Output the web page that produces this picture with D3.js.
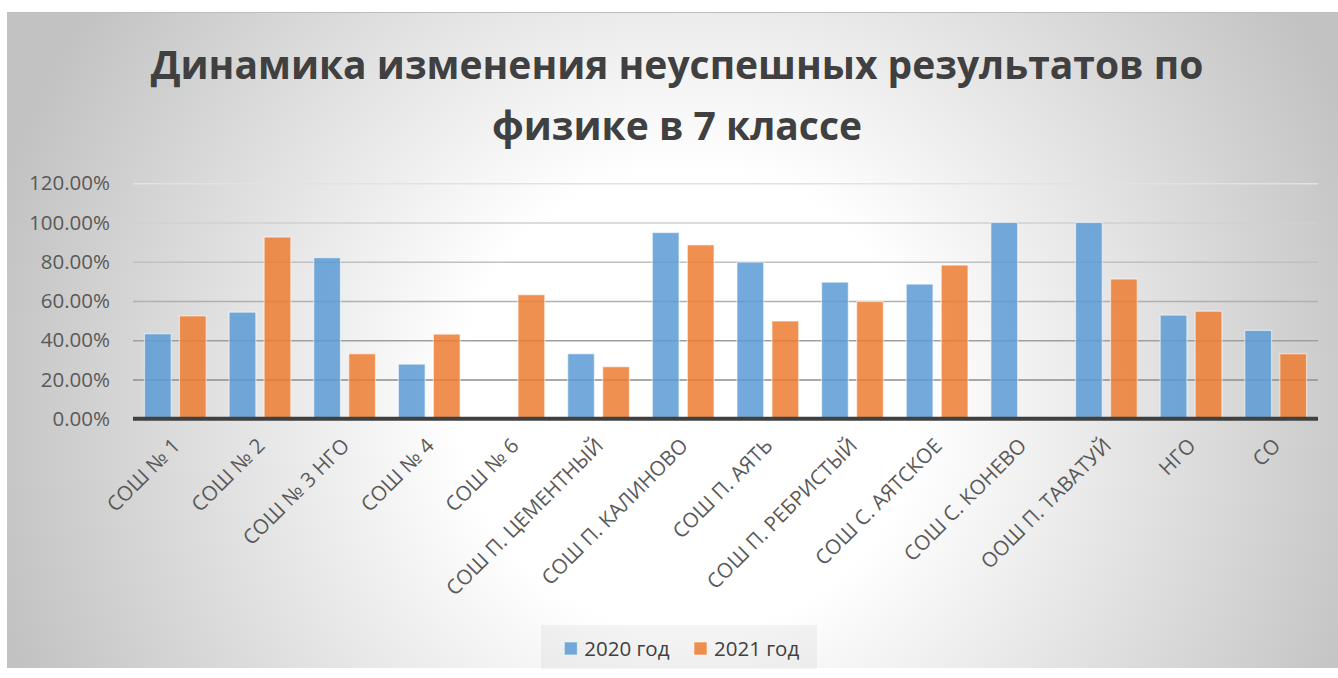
<!DOCTYPE html>
<meta charset="utf-8">
<style>
  body { margin: 0; background: #fff; }
  text { font-family: "Open Sans", sans-serif; }
</style>
<script src="https://d3js.org/d3.v7.min.js"></script>
<div id="chart"></div>
<script>

  // data
  var schools = ["СОШ № 1", "СОШ № 2", "СОШ № 3 НГО", "СОШ № 4", "СОШ № 6", "СОШ П. ЦЕМЕНТНЫЙ",
    "СОШ П. КАЛИНОВО", "СОШ П. АЯТЬ", "СОШ П. РЕБРИСТЫЙ", "СОШ С. АЯТСКОЕ", "СОШ С. КОНЕВО",
    "ООШ П. ТАВАТУЙ", "НГО", "СО"];
  var years = ["2020 год", "2021 год"];
  var values2020 = [43.3, 54.3, 82.1, 27.8, 0, 33.1, 94.9, 79.8, 69.6, 68.6, 100, 100, 52.8, 45.0];
  var values2021 = [52.4, 92.6, 33.1, 43.1, 63.2, 26.5, 88.6, 49.8, 59.7, 78.3, 0, 71.2, 54.8, 33.1];
  var yTicks = [0, 20, 40, 60, 80, 100, 120];
  var titleLines = ["Динамика изменения неуспешных результатов по", "физике в 7 классе"];

  var colors = ["#5b9bd5", "#ed7d31"];
  var series = [values2020, values2021];

  var W = 1338, H = 678;
  var plot = {left: 133, right: 1318, top: 183.3, bottom: 418.7};

  var svg = d3.select("#chart").append("svg")
    .attr("width", W).attr("height", H);

  // background
  var grad = svg.append("defs").append("radialGradient")
    .attr("id", "bg").attr("gradientUnits", "userSpaceOnUse")
    .attr("cx", 690).attr("cy", 400).attr("r", 720);
  grad.append("stop").attr("offset", "0").attr("stop-color", "#ffffff");
  grad.append("stop").attr("offset", "0.32").attr("stop-color", "#ffffff");
  grad.append("stop").attr("offset", "1").attr("stop-color", "#c2c2c2");

  svg.append("rect").attr("x", 7).attr("y", 12).attr("width", W - 7).attr("height", 656)
    .attr("fill", "url(#bg)");
  svg.append("line").attr("x1", 7).attr("x2", W).attr("y1", 12.5).attr("y2", 12.5)
    .attr("stroke", "#bdbdbd").attr("stroke-width", 1);

  // title
  var title = svg.append("g");
  var tl = title.selectAll("text").data(titleLines).enter().append("text")
    .attr("x", 677)
    .attr("y", function(d, i) { return i == 0 ? 78.5 : 140; })
    .attr("text-anchor", "middle")
    .style("font-weight", "bold")
    .style("font-size", "38px")
    .style("fill", "#404040")
    .text(function(d) { return d; });
  var w0 = tl.node().getComputedTextLength();
  tl.style("font-size", (38 * 1053 / w0) + "px");

  // scales
  var y = d3.scaleLinear().domain([0, 120]).range([plot.bottom, plot.top]);
  var x0 = d3.scaleBand().domain(schools).range([plot.left, plot.right]).padding(0);
  var x1 = d3.scaleBand().domain(years).range([0, x0.bandwidth()])
    .paddingInner(0.237).paddingOuter(0.3275);

  // gridlines
  var gridColor = d3.interpolateRgb("#8e8e8e", "#e2e2e2");
  var grid = svg.append("g")
    .attr("transform", "translate(" + plot.left + ",0)")
    .call(d3.axisLeft(y).tickValues(yTicks).tickSize(-(plot.right - plot.left)).tickFormat(""));
  grid.select(".domain").remove();
  grid.selectAll(".tick line")
    .attr("stroke", function(d) { return gridColor((d - 20) / 100); })
    .attr("stroke-width", 1.5);

  // y labels
  var yAxis = svg.append("g")
    .attr("transform", "translate(110,0)")
    .call(d3.axisLeft(y).tickValues(yTicks).tickSize(0).tickPadding(0)
      .tickFormat(function(d) { return d.toFixed(2) + "%"; }));
  yAxis.select(".domain").remove();
  yAxis.selectAll("text")
    .style("font-family", "Open Sans, sans-serif")
    .style("font-size", "20.5px")
    .style("fill", "#595959");

  // bars
  var groups = svg.append("g").selectAll("g")
    .data(schools).enter().append("g")
    .attr("transform", function(d) { return "translate(" + x0(d) + ",0)"; });

  groups.selectAll("rect")
    .data(function(d, i) {
      return years.map(function(yr, k) { return {year: yr, k: k, v: series[k][i]}; });
    })
    .enter().append("rect")
    .filter(function(d) { return d.v > 0; })
    .attr("x", function(d) { return x1(d.year); })
    .attr("y", function(d) { return y(d.v); })
    .attr("width", x1.bandwidth())
    .attr("height", function(d) { return y(0) - y(d.v); })
    .attr("fill", function(d) { return colors[d.k]; })
    .attr("fill-opacity", 0.85)
    .attr("stroke", "#ffffff")
    .attr("stroke-opacity", 0.55)
    .attr("stroke-width", 1.2);

  // x axis line
  svg.append("line")
    .attr("x1", plot.left).attr("x2", plot.right)
    .attr("y1", y(0)).attr("y2", y(0))
    .attr("stroke", "#404040").attr("stroke-width", 4);

  // x labels
  svg.append("g").selectAll("text")
    .data(schools).enter().append("text")
    .attr("transform", function(d) {
      return "translate(" + (x0(d) + x0.bandwidth() / 2 + 1) + ",442) rotate(-45)";
    })
    .attr("text-anchor", "end")
    .attr("dy", "0.35em")
    .style("font-size", "20.5px")
    .style("fill", "#595959")
    .text(function(d) { return d; });

  // legend
  var legend = svg.append("g");
  legend.append("rect").attr("x", 541).attr("y", 625).attr("width", 276).attr("height", 44)
    .attr("fill", "#000").attr("fill-opacity", 0.045);
  var lx = [564.3, 694];
  var items = legend.selectAll("g.item").data(years).enter().append("g").attr("class", "item");
  items.append("rect")
    .attr("x", function(d, i) { return lx[i]; }).attr("y", 642)
    .attr("width", 13).attr("height", 13)
    .attr("fill", function(d, i) { return colors[i]; })
    .attr("fill-opacity", 0.85)
    .attr("stroke", "#fff").attr("stroke-opacity", 0.55);
  items.append("text")
    .attr("x", function(d, i) { return lx[i] + 20; }).attr("y", 655.5)
    .style("font-size", "20.5px")
    .style("fill", "#404040")
    .text(function(d) { return d; });

</script>
